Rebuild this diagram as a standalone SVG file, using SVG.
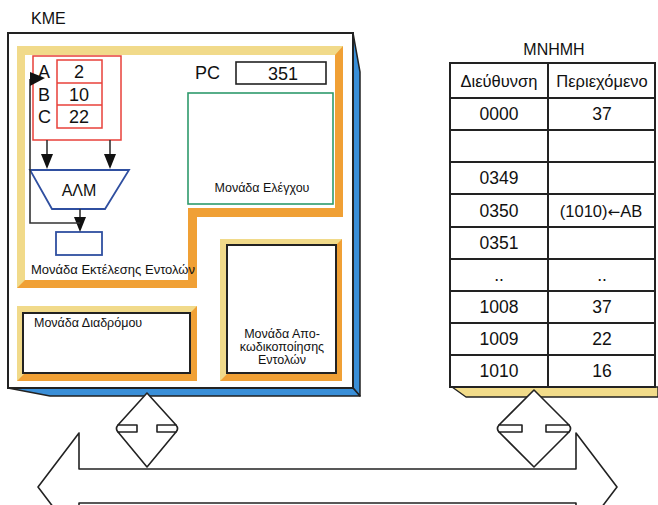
<svg xmlns="http://www.w3.org/2000/svg" width="658" height="505" viewBox="0 0 658 505">
<style>
text{font-family:"Liberation Sans",Arial,sans-serif;fill:#111}
.t12{font-size:12.5px}
.reg{fill:none;stroke:#e8403a;stroke-width:1.5}
.blk{fill:none;stroke:#222;stroke-width:1.6}
.box{fill:#fff;stroke:#222;stroke-width:2}
.blu{fill:#fff;stroke:#2f4fa0;stroke-width:1.8}
.ln{fill:none;stroke:#333;stroke-width:1.6}
.hd{fill:#111}
.yel{fill:#f1da8a}
.org{fill:#f0a035}
.mem{fill:#fff;stroke:#222;stroke-width:2}
</style>
<rect width="658" height="505" fill="#fff"/>

<g id="kme">
<text x="31" y="24" font-size="16">ΚΜΕ</text>
<polygon points="353,33 360,72 360,396 353,388" fill="#3a8fd8" stroke="#222" stroke-width="1.5" stroke-linejoin="round"/>
<polygon points="8,388 353,388 360,396 50,396" fill="#3a8fd8" stroke="#222" stroke-width="1.5" stroke-linejoin="round"/>
<rect x="8" y="33" width="345" height="355" fill="#fff" stroke="#222" stroke-width="2"/>
</g>

<g id="exec-unit">
<polygon class="org" points="17,46 343,46 343,217 197,217 197,288 17,288"/>
<polygon class="yel" points="17,46 343,46 335,55 25,55 25,280 17,288"/>
<polygon fill="#fff" points="25,55 335,55 335,208 188,208 188,280 25,280"/>
<text x="31" y="274" font-size="13">Μονάδα Εκτέλεσης Εντολών</text>
</g>

<g id="registers">
<rect class="reg" x="33" y="56" width="88" height="84"/>
<rect class="reg" x="57" y="60" width="45" height="68"/>
<line class="reg" x1="57" y1="83" x2="102" y2="83"/>
<line class="reg" x1="57" y1="105" x2="102" y2="105"/>
<text x="38" y="78" font-size="18">A</text>
<text x="38" y="101" font-size="18">B</text>
<text x="38" y="123" font-size="18">C</text>
<text x="79" y="78" font-size="18" text-anchor="middle">2</text>
<text x="79" y="101" font-size="18" text-anchor="middle">10</text>
<text x="79" y="123" font-size="18" text-anchor="middle">22</text>
</g>

<g id="alu">
<polygon class="blu" points="30,170 129,170 105,209 52,209"/>
<text x="79" y="196" font-size="16" text-anchor="middle">ΑΛΜ</text>
</g>

<g id="alu-output">
<rect class="blu" x="56" y="232" width="46" height="23"/>
</g>

<g id="connectors">
<line class="ln" x1="47" y1="140" x2="47" y2="156"/>
<polygon class="hd" points="41,154 53,154 47,169"/>
<line class="ln" x1="110" y1="140" x2="110" y2="156"/>
<polygon class="hd" points="104,154 116,154 110,169"/>
<line class="ln" x1="80" y1="209" x2="80" y2="219"/>
<polygon class="hd" points="74,217 86,217 80,232"/>
<polyline class="ln" points="80,223 30,223 30,79"/>
<polygon class="hd" points="30,72 45,78 30,86"/>
</g>

<g id="pc">
<text x="195" y="79" font-size="18">PC</text>
<rect class="blk" x="236" y="62" width="90" height="22"/>
<text x="283" y="80" font-size="18" text-anchor="middle">351</text>
</g>

<g id="control-unit">
<rect x="188" y="93" width="145" height="111" fill="#fff" stroke="#2e9a6c" stroke-width="1.6"/>
<text x="262" y="192" class="t12" text-anchor="middle">Μονάδα Ελέγχου</text>
</g>

<g id="routing-unit">
<rect class="org" x="17" y="306" width="180" height="75"/>
<polygon class="yel" points="17,306 197,306 190,313 24,313 24,374 17,381"/>
<rect class="box" x="23" y="313" width="167" height="60"/>
<text x="34" y="327" class="t12">Μονάδα Διαδρόμου</text>
</g>

<g id="decoding-unit">
<rect class="org" x="220" y="239" width="122" height="142"/>
<polygon class="yel" points="220,239 342,239 336,245 227,245 227,374 220,381"/>
<rect class="box" x="227" y="245" width="109" height="128"/>
<text x="282" y="338" class="t12" text-anchor="middle">Μονάδα Απο-</text>
<text x="282" y="351" class="t12" text-anchor="middle">κωδικοποίησης</text>
<text x="282" y="364" class="t12" text-anchor="middle">Εντολών</text>
</g>

<g id="memory">
<text x="554" y="55" font-size="16" text-anchor="middle">ΜΝΗΜΗ</text>
<polygon points="452,387 658,387 658,397 466,397" fill="#f2dc8a" stroke="#222" stroke-width="1.4" stroke-linejoin="round"/>
<rect class="mem" x="450" y="63" width="205" height="324"/>
<line class="mem" x1="548" y1="63" x2="548" y2="387"/>
<g stroke="#222" stroke-width="2">
<line x1="450" y1="98" x2="655" y2="98"/>
<line x1="450" y1="130" x2="655" y2="130"/>
<line x1="450" y1="162" x2="655" y2="162"/>
<line x1="450" y1="194" x2="655" y2="194"/>
<line x1="450" y1="227" x2="655" y2="227"/>
<line x1="450" y1="259" x2="655" y2="259"/>
<line x1="450" y1="291" x2="655" y2="291"/>
<line x1="450" y1="323" x2="655" y2="323"/>
<line x1="450" y1="355" x2="655" y2="355"/>
</g>
<g font-size="16.5" text-anchor="middle">
<text x="499" y="87">Διεύθυνση</text>
<text x="602" y="87">Περιεχόμενο</text>
</g>
<g font-size="17.5" text-anchor="middle">
<text x="499" y="120">0000</text>
<text x="602" y="120">37</text>
<text x="499" y="184">0349</text>
<text x="499" y="217">0350</text>
<text x="601" y="217" font-size="16.5">(1010)<tspan font-family="'DejaVu Sans',sans-serif" font-size="15">←</tspan>AB</text>
<text x="499" y="249">0351</text>
<text x="499" y="281">..</text>
<text x="602" y="281">..</text>
<text x="499" y="313">1008</text>
<text x="602" y="313">37</text>
<text x="499" y="345">1009</text>
<text x="602" y="345">22</text>
<text x="499" y="377">1010</text>
<text x="602" y="377">16</text>
</g>
</g>

<g id="bus" fill="#fff" stroke="#222" stroke-width="1.6" stroke-linejoin="round">
<polygon points="38,487 79,433 79,469 576,469 576,433 617,487 576,541 576,503 79,503 79,541"/>
<path d="M147,393 L176,425 L157,425 L157,432 L176,432 L147,467 L118,432 L137,432 L137,425 L118,425 Z"/>
<path d="M534,390 L569,425 L546,425 L546,432 L569,432 L534,467 L499,432 L522,432 L522,425 L499,425 Z"/>
<g fill="none" stroke-linecap="round">
<path d="M118,425 Q115,428.5 118,432"/>
<path d="M176,425 Q179,428.5 176,432"/>
<path d="M499,425 Q496,428.5 499,432"/>
<path d="M569,425 Q572,428.5 569,432"/>
</g>
</g>
</svg>
